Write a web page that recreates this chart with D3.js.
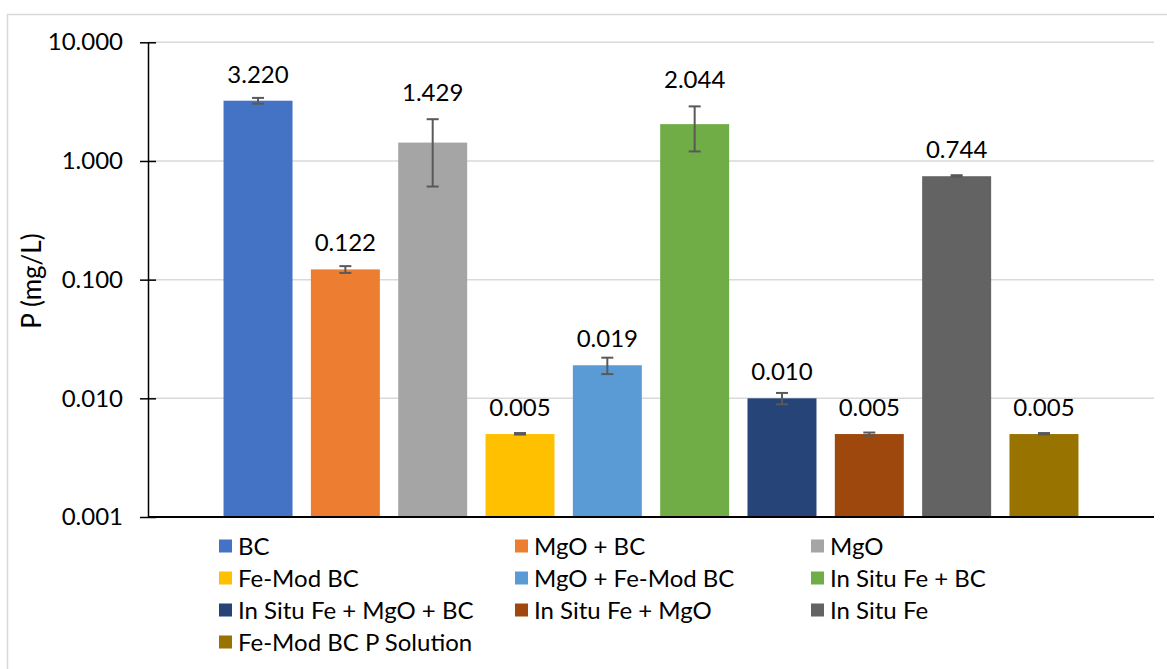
<!DOCTYPE html>
<html>
<head>
<meta charset="utf-8">
<script src="https://cdn.jsdelivr.net/npm/d3@7"></script>
<style>
  body { margin: 0; background: #fff; }
  svg { display: block; font-family: Lato, "Open Sans", sans-serif; }
</style>
</head>
<body>
<svg></svg>
<script>
var WIDTH = 1167;
var HEIGHT = 669;

var categories = ['BC', 'MgO + BC', 'MgO', 'Fe-Mod BC', 'MgO + Fe-Mod BC', 'In Situ Fe + BC',
    'In Situ Fe + MgO + BC', 'In Situ Fe + MgO', 'In Situ Fe', 'Fe-Mod BC P Solution'];
var values = [3.220, 0.122, 1.429, 0.005, 0.019, 2.044, 0.010, 0.005, 0.744, 0.005];
var errors = [0.18, 0.008, 0.82, 0.00005, 0.003, 0.84, 0.0011, 0.00015, 0.005, 0.00005];
var colors = ['#4472c4', '#ed7d31', '#a5a5a5', '#ffc000', '#5b9bd5', '#70ad47',
    '#264478', '#9e480e', '#636363', '#997300'];
var yTicks = [0.001, 0.01, 0.1, 1, 10];

var FONT = 24;

var svg = d3.select('svg')
    .attr('width', WIDTH)
    .attr('height', HEIGHT);

// chart border
svg.append('rect')
    .attr('x', 7.5).attr('y', 14.5)
    .attr('width', WIDTH + 20).attr('height', HEIGHT + 20)
    .attr('fill', 'none')
    .attr('stroke', '#d9d9d9')
    .attr('stroke-width', 1.5);

var plotLeft = 148, plotRight = 1154, plotTop = 42.3, plotBottom = 517;

var xScale = d3.scaleBand()
    .domain(categories)
    .range([plotLeft, plotRight])
    .paddingInner(0.21)
    .paddingOuter(0.865);

var yScale = d3.scaleLog()
    .domain([0.001, 10])
    .range([plotBottom, plotTop]);

// gridlines
svg.append('g').selectAll('line')
    .data(yTicks.slice(1))
    .enter()
    .append('line')
    .attr('x1', plotLeft).attr('x2', plotRight)
    .attr('y1', function(d){ return yScale(d); })
    .attr('y2', function(d){ return yScale(d); })
    .attr('stroke', '#d9d9d9')
    .attr('stroke-width', 1.5);

// bars
svg.append('g').selectAll('rect')
    .data(values)
    .enter()
    .append('rect')
    .attr('x', function(d, i){ return xScale(categories[i]); })
    .attr('y', function(d){ return yScale(d); })
    .attr('width', xScale.bandwidth())
    .attr('height', function(d){ return plotBottom - yScale(d); })
    .attr('fill', function(d, i){ return colors[i]; });

// error bars
var errG = svg.append('g')
    .attr('stroke', '#595959')
    .attr('stroke-width', 2);
values.forEach(function(v, i){
    var cx = xScale(categories[i]) + xScale.bandwidth() / 2;
    var top = yScale(v + errors[i]);
    var bot = yScale(v - errors[i]);
    if (bot - top < 1.5) { top = yScale(v) - 1; bot = yScale(v) + 0.5; }
    errG.append('line').attr('x1', cx).attr('x2', cx).attr('y1', top).attr('y2', bot);
    errG.append('line').attr('x1', cx - 6).attr('x2', cx + 6).attr('y1', top).attr('y2', top);
    errG.append('line').attr('x1', cx - 6).attr('x2', cx + 6).attr('y1', bot).attr('y2', bot);
});

// data labels
svg.append('g').selectAll('text')
    .data(values)
    .enter()
    .append('text')
    .attr('x', function(d, i){ return xScale(categories[i]) + xScale.bandwidth() / 2; })
    .attr('y', function(d, i){
        var anchor = errors[i] > d * 0.3 ? d + errors[i] : d;
        return yScale(anchor) - 18;
    })
    .attr('text-anchor', 'middle')
    .attr('font-size', FONT)
    .attr('fill', '#000')
    .text(function(d){ return d3.format('.3f')(d); });

// axes
var leftAxis = d3.axisLeft(yScale)
    .tickValues(yTicks)
    .tickFormat(d3.format('.3f'))
    .tickSizeInner(8)
    .tickSizeOuter(0);
var yAxisG = svg.append('g')
    .attr('transform', 'translate(' + plotLeft + ',0)')
    .call(leftAxis);
yAxisG.select('.domain').attr('stroke', '#000').attr('stroke-width', 1.5);
yAxisG.selectAll('.tick line')
    .attr('x1', -8).attr('x2', 8)
    .attr('stroke', '#000').attr('stroke-width', 1.5);
yAxisG.selectAll('.tick text')
    .attr('x', -25)
    .attr('font-size', FONT)
    .attr('font-family', 'Lato, sans-serif')
    .attr('fill', '#000');

svg.append('line')
    .attr('x1', plotLeft).attr('x2', plotRight)
    .attr('y1', plotBottom).attr('y2', plotBottom)
    .attr('stroke', '#000').attr('stroke-width', 1.8);

// y axis title
svg.append('text')
    .attr('transform', 'translate(41,281) rotate(-90)')
    .attr('text-anchor', 'middle')
    .attr('font-size', 26)
    .attr('fill', '#000')
    .text('P (mg/L)');

// legend
var legend = svg.append('g');
categories.forEach(function(c, i){
    var col = i % 3, row = Math.floor(i / 3);
    var lx = 219 + col * 296, ly = 546 + row * 32;
    legend.append('rect')
        .attr('x', lx).attr('y', ly - 6.5)
        .attr('width', 13).attr('height', 13)
        .attr('fill', colors[i]);
    legend.append('text')
        .attr('x', lx + 19).attr('y', ly)
        .attr('dy', '0.36em')
        .attr('font-size', FONT)
        .attr('fill', '#000')
        .text(c);
});
</script>
</body>
</html>
